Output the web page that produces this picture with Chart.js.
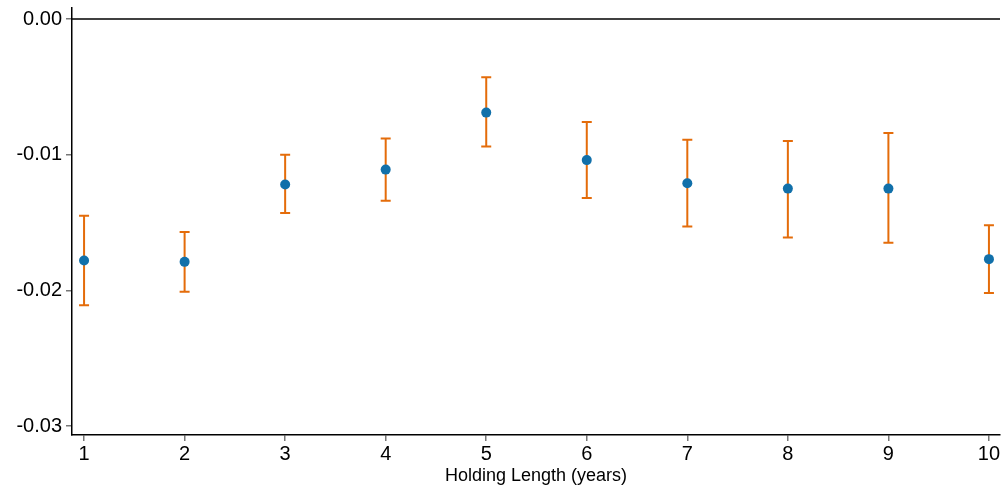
<!DOCTYPE html>
<html>
<head>
<meta charset="utf-8">
<script src="https://cdn.jsdelivr.net/npm/chart.js@4/dist/chart.umd.min.js"></script>
<style>
html,body{margin:0;padding:0;background:#fff;}
#wrap{width:1006px;height:487px;}
</style>
</head>
<body>
<div id="wrap"><canvas id="c" width="1006" height="487"></canvas></div>
<script>
const years = [1, 2, 3, 4, 5, 6, 7, 8, 9, 10];
const estimates = [-0.0178, -0.0179, -0.0122, -0.0111, -0.0069, -0.0104, -0.0121, -0.0125, -0.0125, -0.0177];
const ciUpper = [-0.0145, -0.0157, -0.0100, -0.0088, -0.0043, -0.0076, -0.0089, -0.0090, -0.0084, -0.0152];
const ciLower = [-0.0211, -0.0201, -0.0143, -0.0134, -0.0094, -0.0132, -0.0153, -0.0161, -0.0165, -0.0202];
const yTickValues = [0, -0.01, -0.02, -0.03];
const yTickLabels = ['0.00', '-0.01', '-0.02', '-0.03'];
const xTickValues = [1, 2, 3, 4, 5, 6, 7, 8, 9, 10];
const xTitle = 'Holding Length (years)';

const errorBars = {
  id: 'errorBars',
  beforeDatasetsDraw(chart) {
    const ctx = chart.ctx, x = chart.scales.x, y = chart.scales.y, a = chart.chartArea;
    ctx.save();
    const y0 = y.getPixelForValue(0);
    ctx.strokeStyle = '#000';
    ctx.lineWidth = 1.5;
    ctx.beginPath();
    ctx.moveTo(a.left, y0);
    ctx.lineTo(a.right, y0);
    ctx.stroke();
    ctx.strokeStyle = '#e46c0a';
    ctx.lineWidth = 2;
    years.forEach((yr, i) => {
      const px = x.getPixelForValue(yr);
      const pt = y.getPixelForValue(ciUpper[i]);
      const pb = y.getPixelForValue(ciLower[i]);
      ctx.beginPath();
      ctx.moveTo(px, pt); ctx.lineTo(px, pb);
      ctx.moveTo(px - 5, pt); ctx.lineTo(px + 5, pt);
      ctx.moveTo(px - 5, pb); ctx.lineTo(px + 5, pb);
      ctx.stroke();
    });
    ctx.restore();
  }
};

new Chart(document.getElementById('c'), {
  type: 'scatter',
  data: {
    datasets: [{
      data: years.map((yr, i) => ({x: yr, y: estimates[i]})),
      backgroundColor: '#1170aa',
      borderColor: '#1170aa',
      pointRadius: 5,
      pointHoverRadius: 5,
      borderWidth: 0
    }]
  },
  options: {
    responsive: false,
    animation: false,
    events: [],
    layout: {padding: {top: 8, right: 6, bottom: 0, left: 0}},
    plugins: {legend: {display: false}, tooltip: {enabled: false}},
    scales: {
      x: {
        type: 'linear',
        min: 0.88,
        max: 10.11,
        afterBuildTicks: s => { s.ticks = xTickValues.map(v => ({value: v})); },
        afterFit: s => { s.height = 52; s.paddingLeft = 0; s.paddingRight = 0; },
        ticks: {
          color: '#000',
          font: {family: 'Liberation Sans, Arial, sans-serif', size: 20},
          padding: 1,
          maxRotation: 0,
          autoSkip: false,
          callback: v => String(v)
        },
        grid: {display: true, drawOnChartArea: false, drawTicks: true, tickLength: 6, color: '#777', lineWidth: 1.5},
        border: {display: true, color: '#000', width: 1.5},
        title: {display: true, text: xTitle, color: '#000', font: {family: 'Liberation Sans, Arial, sans-serif', size: 18}, padding: {top: 1, bottom: 0}}
      },
      y: {
        type: 'linear',
        min: -0.03066,
        max: 0.00081,
        afterBuildTicks: s => { s.ticks = yTickValues.map(v => ({value: v})); },
        afterFit: s => { s.width = 72; s.paddingTop = 0; s.paddingBottom = 0; },
        ticks: {
          color: '#000',
          font: {family: 'Liberation Sans, Arial, sans-serif', size: 20},
          padding: 4,
          callback: (v) => { const i = yTickValues.findIndex(t => Math.abs(t - v) < 1e-9); return i >= 0 ? yTickLabels[i] : ''; }
        },
        grid: {display: true, drawOnChartArea: false, drawTicks: true, tickLength: 6, color: '#777', lineWidth: 1.5},
        border: {display: true, color: '#000', width: 1.5}
      }
    }
  },
  plugins: [errorBars]
});
</script>
</body>
</html>
